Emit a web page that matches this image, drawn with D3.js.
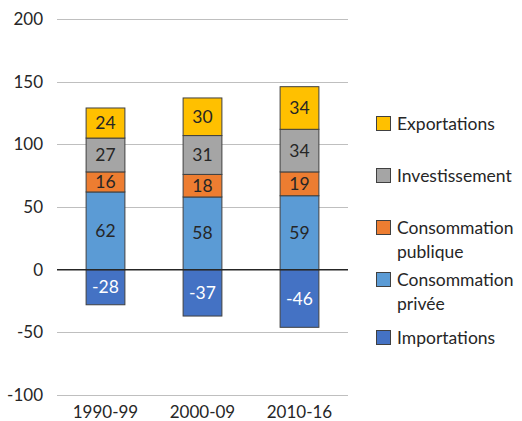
<!DOCTYPE html>
<html>
<head>
<meta charset="utf-8">
<script src="https://cdn.jsdelivr.net/npm/d3@7"></script>
<style>
  body { margin: 0; background: #fff; }
  text { font-family: "Lato", "Open Sans", sans-serif; }
</style>
</head>
<body>
<div id="chart"></div>
<script>
const periods = ['1990-99', '2000-09', '2010-16'];
const seriesNames = ['Importations', 'Consommation privée', 'Consommation publique', 'Investissement', 'Exportations'];
const importations = [-28, -37, -46];
const consoPrivee = [62, 58, 59];
const consoPublique = [16, 18, 19];
const investissement = [27, 31, 34];
const exportations = [24, 30, 34];
const yTicks = [-100, -50, 0, 50, 100, 150, 200];

const colors = {
  'Importations': '#4472c4',
  'Consommation privée': '#5b9bd5',
  'Consommation publique': '#ed7d31',
  'Investissement': '#a5a5a5',
  'Exportations': '#ffc000'
};

const legendItems = [
  { name: 'Exportations', lines: ['Exportations'], y: 124 },
  { name: 'Investissement', lines: ['Investissement'], y: 176 },
  { name: 'Consommation publique', lines: ['Consommation', 'publique'], y: 228 },
  { name: 'Consommation privée', lines: ['Consommation', 'privée'], y: 280 },
  { name: 'Importations', lines: ['Importations'], y: 338 }
];

const width = 522, height = 421;
const margin = { left: 57, right: 174, top: 19, bottom: 26 };

const svg = d3.select('#chart').append('svg').attr('width', width).attr('height', height);

const x = d3.scaleBand().domain(periods).range([margin.left, width - margin.right]).paddingInner(0.6).paddingOuter(0.3);
const y = d3.scaleLinear().domain([-100, 200]).range([height - margin.bottom, margin.top]);

// gridlines
svg.append('g')
  .selectAll('line')
  .data(yTicks.filter(d => d !== 0))
  .join('line')
  .attr('x1', margin.left).attr('x2', width - margin.right)
  .attr('y1', d => Math.round(y(d)) + 0.5).attr('y2', d => Math.round(y(d)) + 0.5)
  .attr('stroke', '#bfbfbf').attr('stroke-width', 1.2);

svg.append('g')
  .selectAll('text')
  .data(yTicks)
  .join('text')
  .attr('x', 43)
  .attr('y', d => y(d))
  .attr('dy', '0.35em')
  .attr('text-anchor', 'end')
  .attr('font-size', 17)
  .attr('fill', '#262626')
  .text(d => d);

// stacked segments
const positive = [
  { name: 'Consommation privée', values: consoPrivee },
  { name: 'Consommation publique', values: consoPublique },
  { name: 'Investissement', values: investissement },
  { name: 'Exportations', values: exportations }
];

const segments = [];
periods.forEach((p, i) => {
  let base = 0;
  positive.forEach(s => {
    segments.push({ period: p, name: s.name, y0: base, y1: base + s.values[i], value: s.values[i] });
    base += s.values[i];
  });
  segments.push({ period: p, name: 'Importations', y0: importations[i], y1: 0, value: importations[i] });
});

const bars = svg.append('g');
bars.selectAll('rect')
  .data(segments)
  .join('rect')
  .attr('x', d => x(d.period))
  .attr('width', x.bandwidth())
  .attr('y', d => y(d.y1))
  .attr('height', d => y(d.y0) - y(d.y1))
  .attr('fill', d => colors[d.name])
  .attr('stroke', '#404040')
  .attr('stroke-width', 1);

bars.selectAll('text')
  .data(segments)
  .join('text')
  .attr('x', d => x(d.period) + x.bandwidth() / 2)
  .attr('y', d => (y(d.y0) + y(d.y1)) / 2)
  .attr('dy', '0.35em')
  .attr('text-anchor', 'middle')
  .attr('font-size', 17.5)
  .attr('fill', d => d.name === 'Importations' ? '#ffffff' : '#262626')
  .text(d => d.value);

// zero line
svg.append('line')
  .attr('x1', margin.left).attr('x2', width - margin.right)
  .attr('y1', y(0)).attr('y2', y(0))
  .attr('stroke', '#262626').attr('stroke-width', 1.5);

// x labels
svg.append('g')
  .selectAll('text')
  .data(periods)
  .join('text')
  .attr('x', d => x(d) + x.bandwidth() / 2)
  .attr('y', 412)
  .attr('dy', '0.35em')
  .attr('text-anchor', 'middle')
  .attr('font-size', 17)
  .attr('fill', '#262626')
  .text(d => d);

// legend
const legend = svg.append('g');
legendItems.forEach(item => {
  const g = legend.append('g');
  g.append('rect')
    .attr('x', 376.5).attr('y', item.y - 7.5)
    .attr('width', 14).attr('height', 14)
    .attr('fill', colors[item.name])
    .attr('stroke', '#404040').attr('stroke-width', 1);
  item.lines.forEach((line, k) => {
    g.append('text')
      .attr('x', 397)
      .attr('y', item.y + k * 24)
      .attr('dy', '0.35em')
      .attr('font-size', 17.5)
      .attr('fill', '#262626')
      .text(line);
  });
});
</script>
</body>
</html>
